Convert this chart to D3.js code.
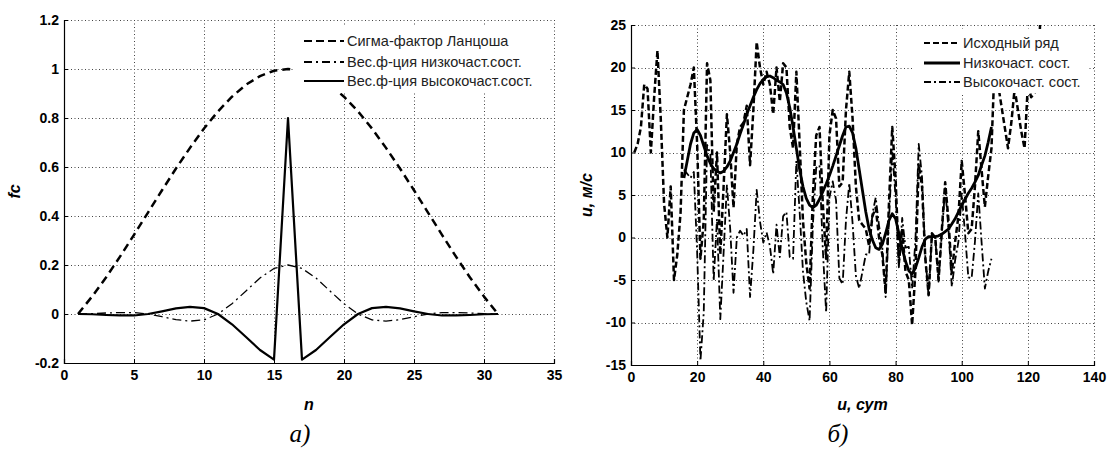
<!DOCTYPE html>
<html>
<head>
<meta charset="utf-8">
<script src="https://cdn.jsdelivr.net/npm/d3@7"></script>
<style>
  body { margin: 0; background: #fff; }
  text { font-family: Arial, "Liberation Sans", sans-serif; }
</style>
</head>
<body>
<svg id="chart" width="1111" height="455"></svg>
<script>
// ---- panel a): Lanczos weights ----
var nVals = [1,2,3,4,5,6,7,8,9,10,11,12,13,14,15,16,17,18,19,20,21,22,23,24,25,26,27,28,29,30,31];
var sigmaVals = [0,0.071,0.149,0.234,0.323,0.414,0.505,0.594,0.678,0.757,0.827,0.887,0.936,0.971,0.993,1,
                 0.993,0.971,0.936,0.887,0.827,0.757,0.678,0.594,0.505,0.414,0.323,0.234,0.149,0.071,0];
var lowVals = [0,0.001,0.004,0.006,0.006,0,-0.011,-0.023,-0.029,-0.024,0,0.042,0.094,0.147,0.186,0.2,
               0.186,0.147,0.094,0.042,0,-0.024,-0.029,-0.023,-0.011,0,0.006,0.006,0.004,0.001,0];
var highVals = [0,-0.001,-0.004,-0.006,-0.006,0,0.011,0.023,0.029,0.024,0,-0.042,-0.094,-0.147,-0.186,0.8,
                -0.186,-0.147,-0.094,-0.042,0,0.024,0.029,0.023,0.011,0,-0.006,-0.006,-0.004,-0.001,0];
var xTicksA = [0,5,10,15,20,25,30,35];
var yTicksA = [-0.2,0,0.2,0.4,0.6,0.8,1,1.2];
var yLabelsA = ["-0.2","0","0.2","0.4","0.6","0.8","1","1.2"];
var legendA = ["Сигма-фактор Ланцоша", "Вес.ф-ция низкочаст.сост.", "Вес.ф-ция высокочаст.сост."];

// ---- panel б): wind series ----
var days = d3.range(1, 125);
var rawVals = [10,11,13,18,17.5,10,16.5,22,14,4,0,6,-5,-2,3,15,16.5,18,20,11,
               -2.5,2,20.5,18.5,3,10,-2,6,14.5,10,3.5,11,13,13.5,15.5,8.5,15,23,20,18,
               19.5,18,14.5,20,16,20.5,20,13,10.5,19.5,11,2,-3,-6,5,12,13,4,-2.5,12,
               15,14,6,6.5,15,19.5,14,6,2,1.5,1,-1,2.5,3.5,0,-2,-6.5,4,13,7,
               -3,1,-4,-5,-10.3,-4,8.6,6,-2.5,-6.8,0.5,0,-5,1,6.5,2,-4.2,-0.5,2.5,9,
               5,0.5,1,6,12.5,8,3.6,7.2,10.5,21,18,15.5,13,10.5,13.5,17.5,15,12.5,10.5,18,
               16.5,17,18.5,28];
var filtDays = d3.range(16, 110);
var lowSeries = [7,9,11,12.3,12.7,12,10.8,9.6,8.7,8.1,7.8,7.6,7.8,8.3,9,10,11,12.2,13.3,14.5,
                 15.5,16.5,17.4,18.1,18.6,18.9,19,18.8,18.5,18.3,18,17,15.3,13,10.5,8,6,4.6,3.8,3.5,
                 3.8,4.5,5.4,6.3,7.3,8.4,9.6,10.8,12,13,13.1,12.3,10.5,8,5.5,3,1,-0.3,-1.2,-1.4,
                 -0.8,0.5,2,2.8,2.2,0.5,-1.3,-2.8,-3.9,-4.3,-3.6,-2.4,-1.1,-0.2,0.1,0.1,0.1,0.2,0.4,0.7,
                 1,1.6,2.2,3,3.8,4.5,5.2,5.8,6.5,7.3,8.5,9.6,11.2,13];
var highSeries = [8,7.5,7,7.7,-1.7,-14.5,-8.8,10.9,9.8,-5.1,2.2,-9.6,-1.8,6.2,1,-6.5,0,0.8,0.2,1,
                  -7,-1.5,5.6,1.9,-0.6,0.6,-1,-4.3,1.5,-2.3,2.5,3,-2.3,-2.5,9,3,-4,-7.6,-9.8,1.5,
                  8.2,8.5,-1.4,-8.8,4.7,6.6,4.4,-4.8,-5.5,2,6.4,1.7,-4.5,-6,-4,-2,-2,2.8,4.7,1.4,
                  -1.2,-7,2,10.2,4.8,-3.5,2.3,-1.2,-1.1,-6,-0.4,11,7.1,-2.3,-6.9,0.4,-0.1,-5.2,0.6,5.8,
                  1,-5.8,-2.7,-0.5,5.2,0.5,-4.7,-4.8,-0.5,5.2,-0.5,-6,-4,-2.5];
var xTicksB = [0,20,40,60,80,100,120,140];
var yTicksB = [-15,-10,-5,0,5,10,15,20,25];
var legendB = ["Исходный ряд", "Низкочаст. сост.", "Высокочаст. сост."];

var svg = d3.select("#chart");

function panel(opt) {
  var g = svg.append("g");
  var x = opt.x, y = opt.y;
  var x0 = x.range()[0], x1 = x.range()[1], yb = y.range()[0], yt = y.range()[1];

  // dotted grid
  var grid = g.append("g").attr("stroke", "#444").attr("stroke-width", 1)
    .attr("stroke-dasharray", "1,2.5");
  grid.selectAll("line.gx").data(opt.xTicks.slice(1)).join("line")
    .attr("x1", d => Math.round(x(d)) + 0.5).attr("x2", d => Math.round(x(d)) + 0.5)
    .attr("y1", yt).attr("y2", yb);
  grid.selectAll("line.gy").data(opt.yTicks.slice(1)).join("line")
    .attr("y1", d => Math.round(y(d)) + 0.5).attr("y2", d => Math.round(y(d)) + 0.5)
    .attr("x1", x0).attr("x2", x1);

  // series
  var clipId = "clip" + opt.id;
  svg.append("clipPath").attr("id", clipId).append("rect")
    .attr("x", x0).attr("y", yt).attr("width", x1 - x0).attr("height", yb - yt);
  var lines = g.append("g").attr("clip-path", "url(#" + clipId + ")");
  opt.series.forEach(function (s) {
    var line = d3.line().x((d, i) => x(s.xs[i])).y(d => y(d));
    lines.append("path").datum(s.ys)
      .attr("fill", "none").attr("stroke", "#000")
      .attr("stroke-width", s.w).attr("stroke-dasharray", s.dash)
      .attr("stroke-linejoin", "round")
      .attr("d", line);
  });

  // legend (white box over the curves, no border)
  var lg = g.append("g");
  lg.append("rect").attr("x", opt.legend.x).attr("y", opt.legend.y)
    .attr("width", opt.legend.w).attr("height", opt.legend.h).attr("fill", "#fff");
  opt.series.forEach(function (s, i) {
    var ly = opt.legend.rows[i];
    lg.append("line").attr("x1", opt.legend.lx0).attr("x2", opt.legend.lx1)
      .attr("y1", ly).attr("y2", ly).attr("stroke", "#000")
      .attr("stroke-width", s.lw).attr("stroke-dasharray", s.ldash);
    lg.append("text").attr("x", opt.legend.lx1 + 3).attr("y", ly + 5)
      .attr("font-size", 14.5).attr("fill", "#222").text(s.name);
  });

  // axes
  var ax = g.append("g").attr("transform", "translate(0," + yb + ")")
    .call(d3.axisBottom(x).tickValues(opt.xTicks).tickSize(-4).tickPadding(7).tickFormat(d => String(d)));
  var ay = g.append("g").attr("transform", "translate(" + x0 + ",0)")
    .call(d3.axisLeft(y).tickValues(opt.yTicks).tickSize(-4).tickPadding(5)
      .tickFormat((d, i) => opt.yLabels[i]));
  [ax, ay].forEach(function (a) {
    a.select(".domain").attr("stroke", "#000").attr("stroke-width", 1.2);
    a.selectAll(".tick line").attr("stroke", "#000");
    a.selectAll(".tick text").attr("font-size", 14).attr("font-weight", "bold")
      .attr("font-family", "Arial, 'Liberation Sans', sans-serif").attr("fill", "#000");
  });
  ax.selectAll(".tick").filter((d, i) => i === 0).select("line").remove();
  ay.selectAll(".tick").filter((d, i) => i === 0).select("line").remove();

  // axis titles
  g.append("text").attr("x", (x0 + x1) / 2).attr("y", 410).attr("text-anchor", "middle")
    .attr("font-size", 16).attr("font-weight", "bold").attr("font-style", "italic").text(opt.xTitle);
  g.append("text").attr("transform", "translate(" + opt.yTitleX + "," + (yb + yt) / 2 + ") rotate(-90)")
    .attr("text-anchor", "middle").attr("font-size", 16).attr("font-weight", "bold")
    .attr("font-style", "italic").text(opt.yTitle);
  g.append("text").attr("x", opt.capX).attr("y", 442).attr("text-anchor", "middle")
    .style("font-family", "'Liberation Serif', 'Times New Roman', serif")
    .attr("font-size", 25).attr("font-style", "italic").text(opt.caption);
}

panel({
  id: "A",
  x: d3.scaleLinear().domain([0, 35]).range([64, 554]),
  y: d3.scaleLinear().domain([-0.2, 1.2]).range([363, 20]),
  xTicks: xTicksA, yTicks: yTicksA, yLabels: yLabelsA,
  series: [
    { name: legendA[0], xs: nVals, ys: sigmaVals, w: 2.5, dash: "8,5", lw: 2, ldash: "8,4" },
    { name: legendA[1], xs: nVals, ys: lowVals, w: 1.3, dash: "9,4,2,4", lw: 2, ldash: "8,4,2,4" },
    { name: legendA[2], xs: nVals, ys: highVals, w: 2.2, dash: null, lw: 2, ldash: null }
  ],
  legend: { x: 294, y: 26, w: 254, h: 67, rows: [41, 62, 81], lx0: 304, lx1: 344 },
  xTitle: "n", yTitle: "fc", yTitleX: 20, capX: 300, caption: "а)"
});

panel({
  id: "B",
  x: d3.scaleLinear().domain([0, 140]).range([631, 1094]),
  y: d3.scaleLinear().domain([-15, 25]).range([365, 25]),
  xTicks: xTicksB, yTicks: yTicksB, yLabels: yTicksB.map(String),
  series: [
    { name: legendB[0], xs: days, ys: rawVals, w: 2.5, dash: "6,3", lw: 2.2, ldash: "6,3" },
    { name: legendB[1], xs: filtDays, ys: lowSeries, w: 2.8, dash: null, lw: 2.8, ldash: null },
    { name: legendB[2], xs: filtDays, ys: highSeries, w: 1.8, dash: "8,3,2,3", lw: 2, ldash: "7,3,2,3" }
  ],
  legend: { x: 912, y: 29, w: 177, h: 64, rows: [43, 63, 82], lx0: 924, lx1: 960 },
  xTitle: "u, сут", yTitle: "u, м/с", yTitleX: 592, capX: 838, caption: "б)"
});
</script>
</body>
</html>
